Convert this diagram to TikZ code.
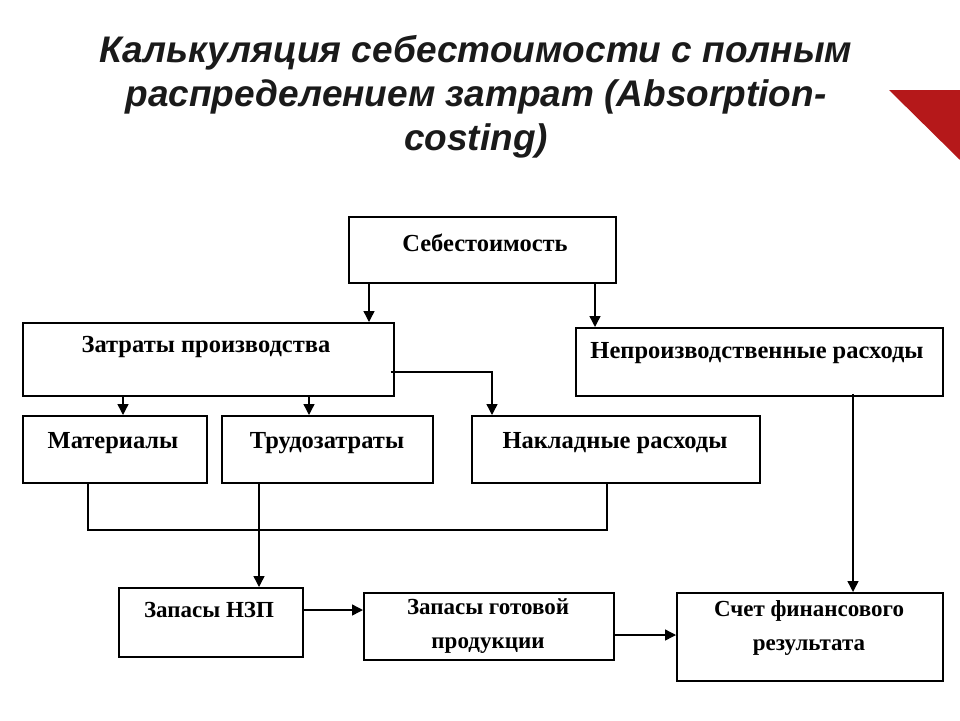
\documentclass[tikz,border=0pt]{standalone}
\usepackage{fontspec}
\setmainfont{Liberation Serif}
\newfontfamily\titlefont{Liberation Sans}
\usetikzlibrary{arrows.meta,calc}
\definecolor{deco}{HTML}{B5181A}
\definecolor{titlecol}{HTML}{1A1A1A}
\begin{document}
\begin{tikzpicture}[x=1pt,y=-1pt,
  box/.style={draw=black,line width=1.8pt,inner sep=0pt,anchor=north west},
  txt/.style={font=\fontsize{24.5}{34}\selectfont\bfseries,inner sep=0pt,align=center},
  txtb/.style={font=\fontsize{23}{34}\selectfont\bfseries,inner sep=0pt,align=center},
  ttl/.style={font=\titlefont\fontsize{37}{44}\selectfont\bfseries\itshape,text=titlecol,inner sep=0pt,align=center},
  conn/.style={line width=1.4pt},
  arr/.style={line width=1.4pt,-{Triangle[length=11pt,width=11pt]}}]
\useasboundingbox (0,0) rectangle (960,720);
% title
\node[ttl] (title) at (476,97) {Калькуляция себестоимости с полным\\распределением затрат (Absorption-\\costing)};
% decoration
\fill[deco] (889,90) -- (960,90) -- (960,160) -- cycle;
% boxes
\node[box,minimum width=267,minimum height=66] (seb) at (348,216) {};
\node[box,minimum width=371,minimum height=73] (zp) at (22,322) {};
\node[box,minimum width=367,minimum height=68] (np) at (575,327) {};
\node[box,minimum width=184,minimum height=67] (mat) at (22,415) {};
\node[box,minimum width=211,minimum height=67] (trud) at (221,415) {};
\node[box,minimum width=288,minimum height=67] (nakl) at (471,415) {};
\node[box,minimum width=184,minimum height=69] (nzp) at (118,587) {};
\node[box,minimum width=250,minimum height=67] (gp) at (363,592) {};
\node[box,minimum width=266,minimum height=88] (sfr) at (676,592) {};
% texts
\node[txt] (sebT) at (485,243) {Себестоимость};
\node[txt] (zpT) at (206,347) {Затраты производства};
\node[txt] (npT) at (757,353) {Непроизводственные расходы};
\node[txt] (matT) at (113,443) {Материалы};
\node[txt] (trudT) at (327,443) {Трудозатраты};
\node[txt] (naklT) at (615,443) {Накладные расходы};
\node[txtb] (nzpT) at (209,610) {Запасы НЗП};
\node[txtb] (gpT) at (488,626) {Запасы готовой\\продукции};
\node[txtb] (sfrT) at (809,628) {Счет финансового\\результата};
% helper coordinates
\coordinate (x369) at (369,0);
\coordinate (x595) at (595,0);
\coordinate (x123) at (123,0);
\coordinate (x309) at (309,0);
\coordinate (x492) at (492,0);
\coordinate (x88) at (88,0);
\coordinate (x259) at (259,0);
\coordinate (x607) at (607,0);
\coordinate (x853) at (853,0);
\coordinate (y372) at (0,372);
\coordinate (y530) at (0,530);
\coordinate (y610) at (0,610);
\coordinate (y635) at (0,635);
% connectors
\draw[arr] (seb.south -| x369) -- (zp.north -| x369);
\draw[arr] (seb.south -| x595) -- (np.north -| x595);
\draw[arr] (zp.south -| x123) -- (mat.north -| x123);
\draw[arr] (zp.south -| x309) -- (trud.north -| x309);
\draw[arr] ([xshift=-4]zp.east |- y372) -| (nakl.north -| x492);
\draw[conn] (mat.south -| x88) -- (x88 |- y530) -- (x607 |- y530) -- (nakl.south -| x607);
\draw[arr] (trud.south -| x259) -- (nzp.north -| x259);
\draw[arr] ([yshift=3]np.south -| x853) -- (sfr.north -| x853);
\draw[arr] (nzp.east |- y610) -- (gp.west |- y610);
\draw[arr] (gp.east |- y635) -- (sfr.west |- y635);
\end{tikzpicture}
\end{document}
